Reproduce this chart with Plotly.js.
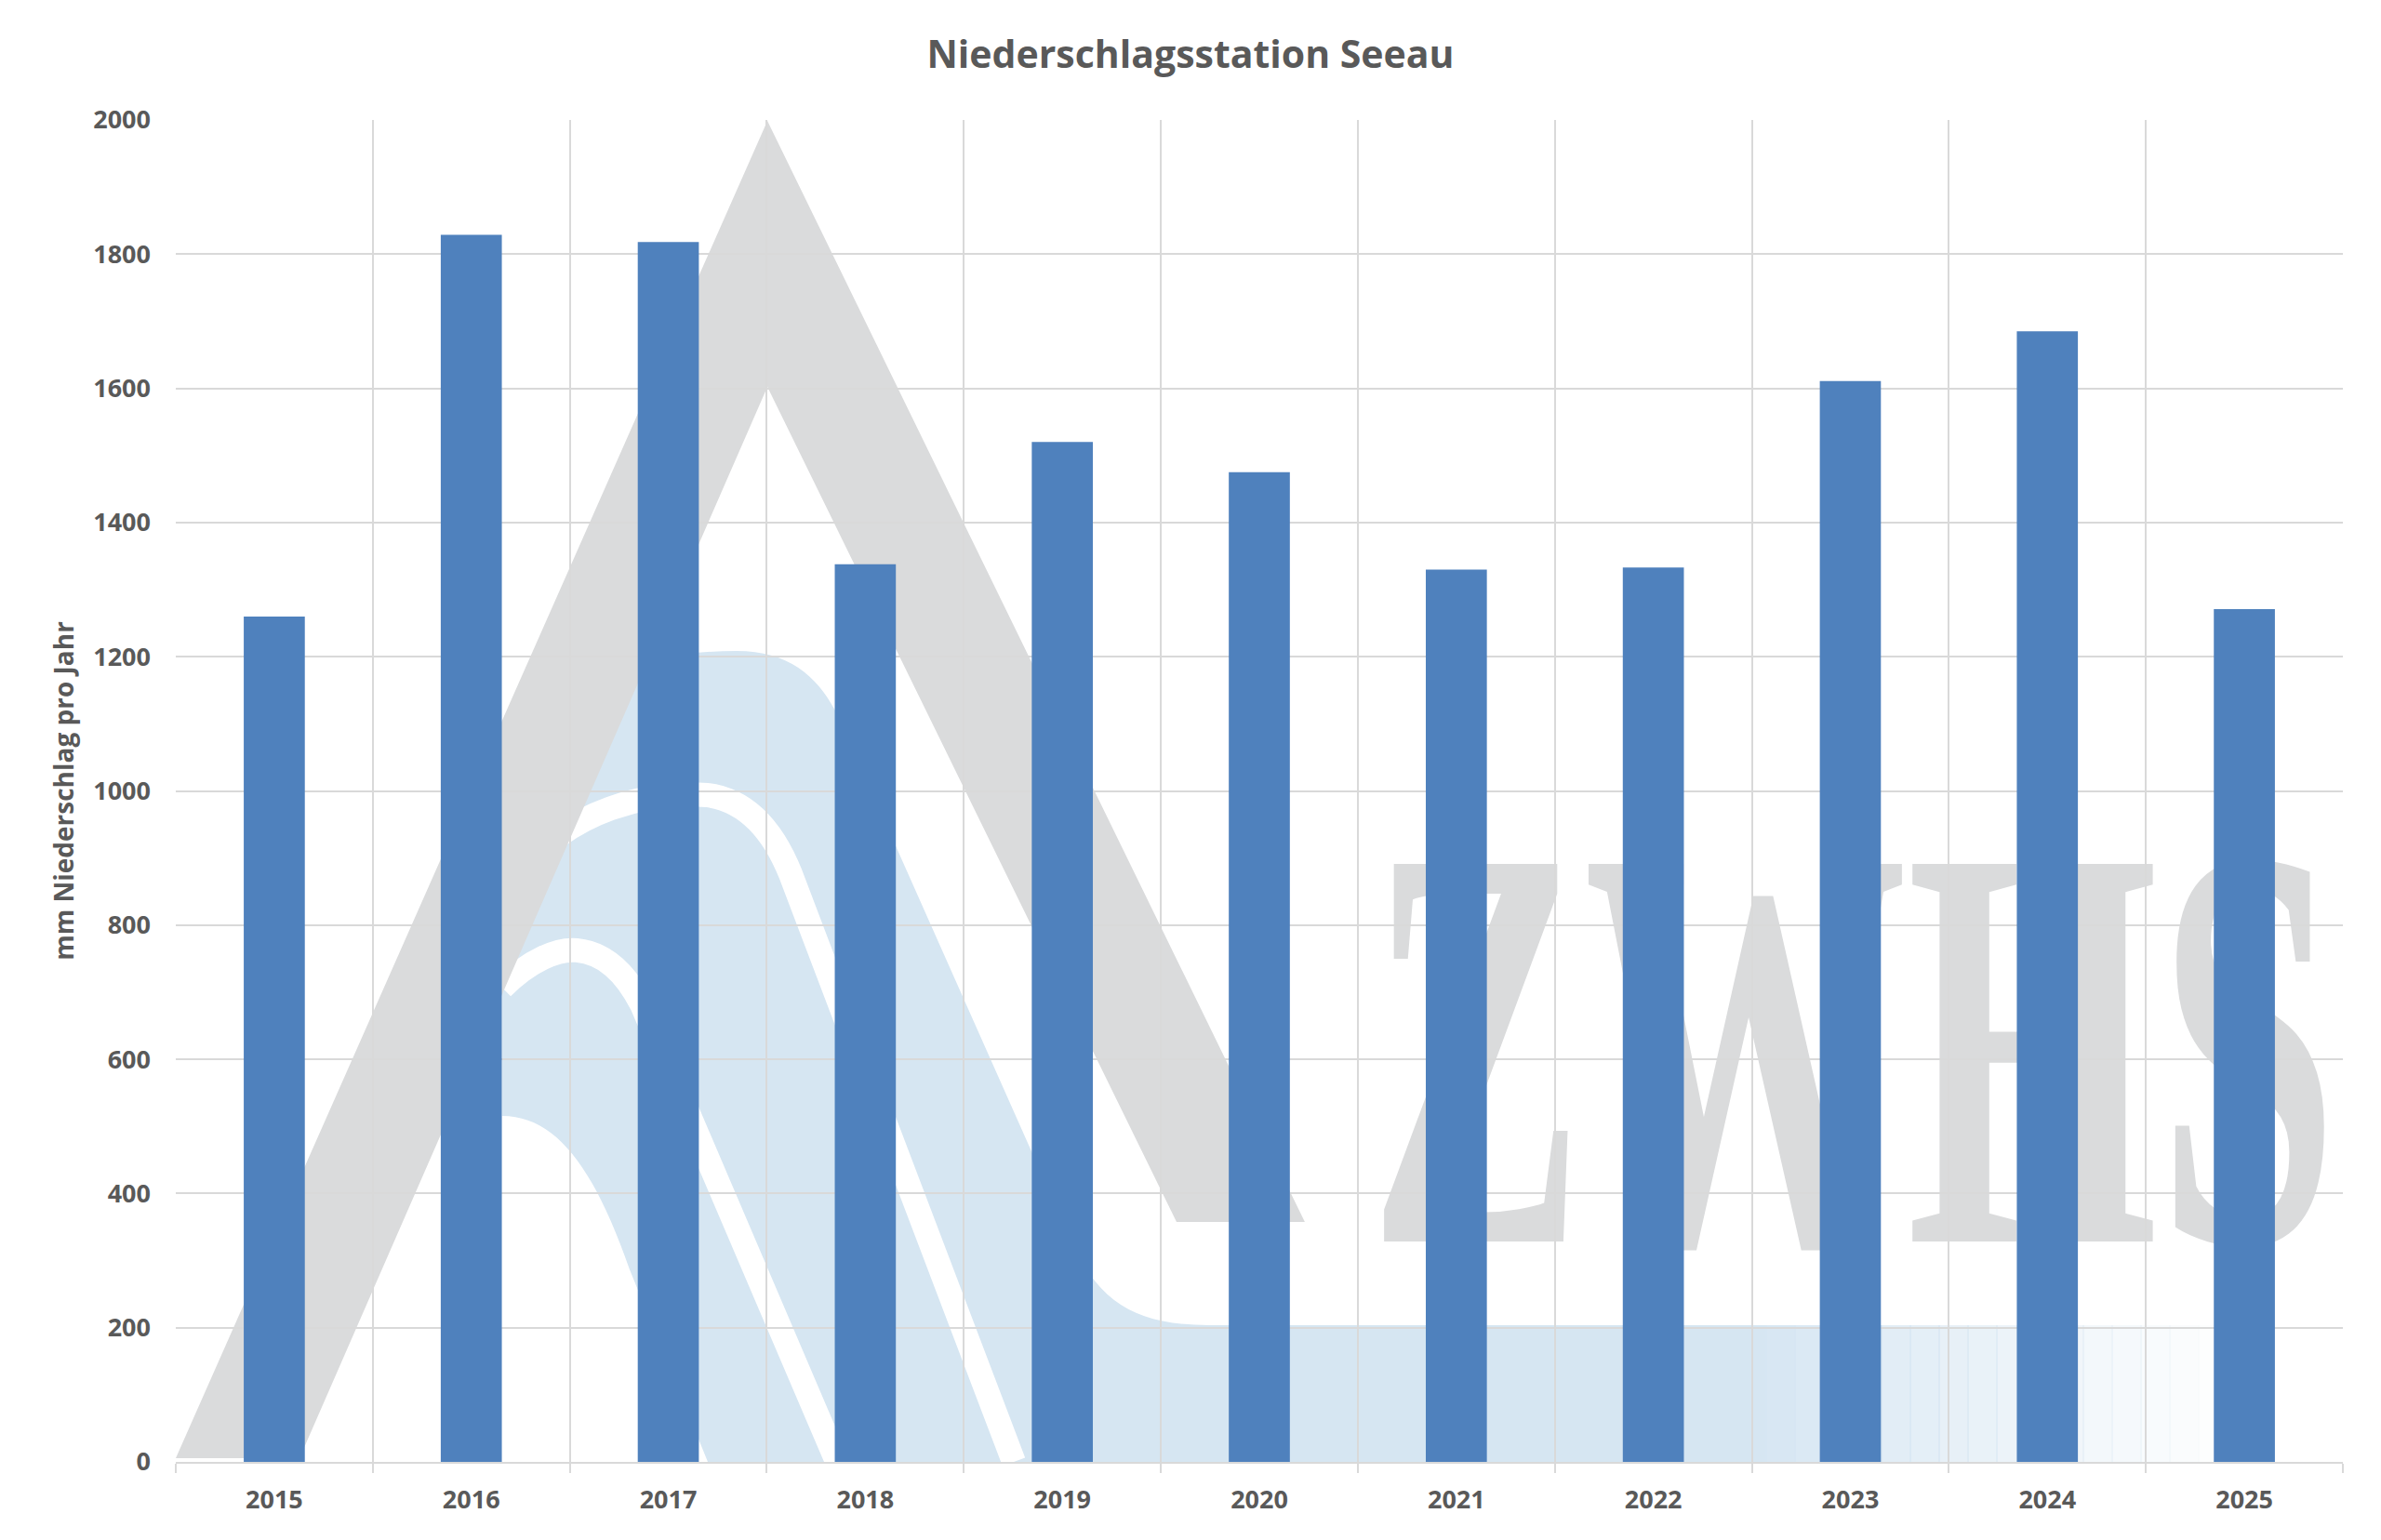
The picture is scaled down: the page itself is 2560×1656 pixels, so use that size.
<!DOCTYPE html>
<html>
<head>
<meta charset="utf-8">
<script src="https://cdn.plot.ly/plotly-3.0.1.min.js"></script>
<style>
  body { margin: 0; background: #fff; }
  #chart { width: 2560px; height: 1656px; outline: 3px solid #d9d9d9; outline-offset: -3px; }
</style>
</head>
<body>
<div id="chart"></div>
<script>
// Niederschlag pro Jahr (mm)
const years = ['2015', '2016', '2017', '2018', '2019', '2020', '2021', '2022', '2023', '2024', '2025'];
const niederschlag = [1260, 1829, 1818, 1338, 1520, 1475, 1330, 1333, 1611, 1685, 1271];
const yTicks = [0, 200, 400, 600, 800, 1000, 1200, 1400, 1600, 1800, 2000];

const chartTitle = 'Niederschlagsstation Seeau';
const yTitle = 'mm Niederschlag pro Jahr';
const watermarkText = 'ZWHS';

// plot area in page pixels, used to place the background logo
const plotL = 189, plotR = 2519, plotT = 129, plotB = 1572;

// turns "x,y" pixel pairs of a path into paper units
function toPaper(path) {
    return path.replace(/(-?\d+\.?\d*),(-?\d+\.?\d*)/g, function (m, a, b) {
        const px = (parseFloat(a) - plotL) / (plotR - plotL);
        const py = (plotB - parseFloat(b)) / (plotB - plotT);
        return px.toFixed(4) + ',' + py.toFixed(4);
    });
}
function pxX(v) { return (v - plotL) / (plotR - plotL); }
function pxY(v) { return (plotB - v) / (plotB - plotT); }

const logoBlue = '#d6e6f2';
const logoGray = '#dadbdc';

const shapes = [
    // blue waves
    {type: 'path', xref: 'paper', yref: 'paper', layer: 'below',
     path: toPaper('M 540,1200 L 540,900 C 540,770 640,700 792,700 C 860,700 890,740 910,790 L 1150,1330 C 1180,1400 1220,1425 1300,1425 L 1900,1425 L 1900,1572 L 761,1572 L 677,1365 C 640,1260 600,1200 540,1200 Z'),
     fillcolor: logoBlue, line: {width: 0}}
];
// fading tail of the blue band
for (let i = 0; i < 16; i++) {
    const x0 = 1898 + i * 31;
    shapes.push({type: 'rect', xref: 'paper', yref: 'paper', layer: 'below',
        x0: pxX(x0), x1: pxX(x0 + 33), y0: pxY(1572), y1: pxY(1425),
        fillcolor: logoBlue, opacity: 1 - (i + 1) / 17, line: {width: 0}});
}
shapes.push(
    {type: 'path', xref: 'paper', yref: 'paper', layer: 'below',
     path: toPaper('M 560,940 C 610,870 700,850 760,855 C 800,860 830,890 850,940 L 1090,1572'),
     line: {color: '#ffffff', width: 26}},
    {type: 'path', xref: 'paper', yref: 'paper', layer: 'below',
     path: toPaper('M 540,1062 C 570,1032 600,1020 620,1022 C 650,1025 672,1045 690,1080 L 900,1572'),
     line: {color: '#ffffff', width: 26}},
    // gray roof
    {type: 'path', xref: 'paper', yref: 'paper', layer: 'below',
     path: toPaper('M 189,1568 L 825,130 L 1403,1314 L 1265,1314 L 825,416 L 322,1568 Z'),
     fillcolor: logoGray, line: {width: 0}},
    // lettering
    {type: 'rect', xref: 'paper', yref: 'paper', layer: 'below',
     x0: pxX(1470), x1: pxX(2515), y0: pxY(1263), y1: pxY(853),
     fillcolor: 'rgba(0,0,0,0)', line: {width: 0},
     label: {text: watermarkText, textposition: 'middle center',
             font: {family: 'Liberation Serif', size: 620, weight: 'bold', color: logoGray}}}
);

const trace = {
    type: 'bar',
    x: years,
    y: niederschlag,
    marker: {color: '#4f81bd', line: {width: 0}},
    hoverinfo: 'x+y'
};

const textFont = {family: 'Open Sans', weight: 'bold', color: '#595959'};

const layout = {
    width: 2560,
    height: 1656,
    paper_bgcolor: '#ffffff',
    plot_bgcolor: 'rgba(0,0,0,0)',
    margin: {l: plotL, r: 2560 - plotR, t: plotT, b: 1656 - plotB},
    showlegend: false,
    bargap: 0.69,
    title: {
        text: chartTitle,
        x: 0.5, xref: 'container', xanchor: 'center',
        y: 1 - 59 / 1656, yref: 'container', yanchor: 'middle',
        font: Object.assign({size: 41}, textFont)
    },
    xaxis: {
        type: 'category',
        tickson: 'boundaries',
        showgrid: true,
        gridcolor: '#d9d9d9',
        gridwidth: 2,
        showline: true,
        linecolor: '#d9d9d9',
        linewidth: 2,
        ticks: 'outside',
        ticklen: 10,
        tickwidth: 2,
        tickcolor: '#d9d9d9',
        ticklabelstandoff: 16,
        tickfont: Object.assign({size: 27}, textFont),
        zeroline: false
    },
    yaxis: {
        range: [0, 2000],
        tickvals: yTicks,
        ticktext: yTicks.map(String),
        showgrid: true,
        gridcolor: '#d9d9d9',
        gridwidth: 2,
        showline: false,
        zeroline: false,
        ticks: '',
        ticklabelstandoff: 26,
        tickfont: Object.assign({size: 27}, textFont),
        title: {
            text: yTitle,
            standoff: 12,
            font: Object.assign({size: 28}, textFont)
        }
    },
    shapes: shapes
};

Plotly.newPlot('chart', [trace], layout, {displayModeBar: false, responsive: false}).then(function () {
    // squeeze the logo lettering horizontally, like the narrow letters in the original
    const t = document.querySelector('.shape-label text') || document.querySelector('.layer-below .shapelayer text');
    if (t) {
        t.style.transformBox = 'fill-box';
        t.style.transformOrigin = 'center';
        t.style.transform = 'scaleX(0.56)';
    }
});
</script>
</body>
</html>
